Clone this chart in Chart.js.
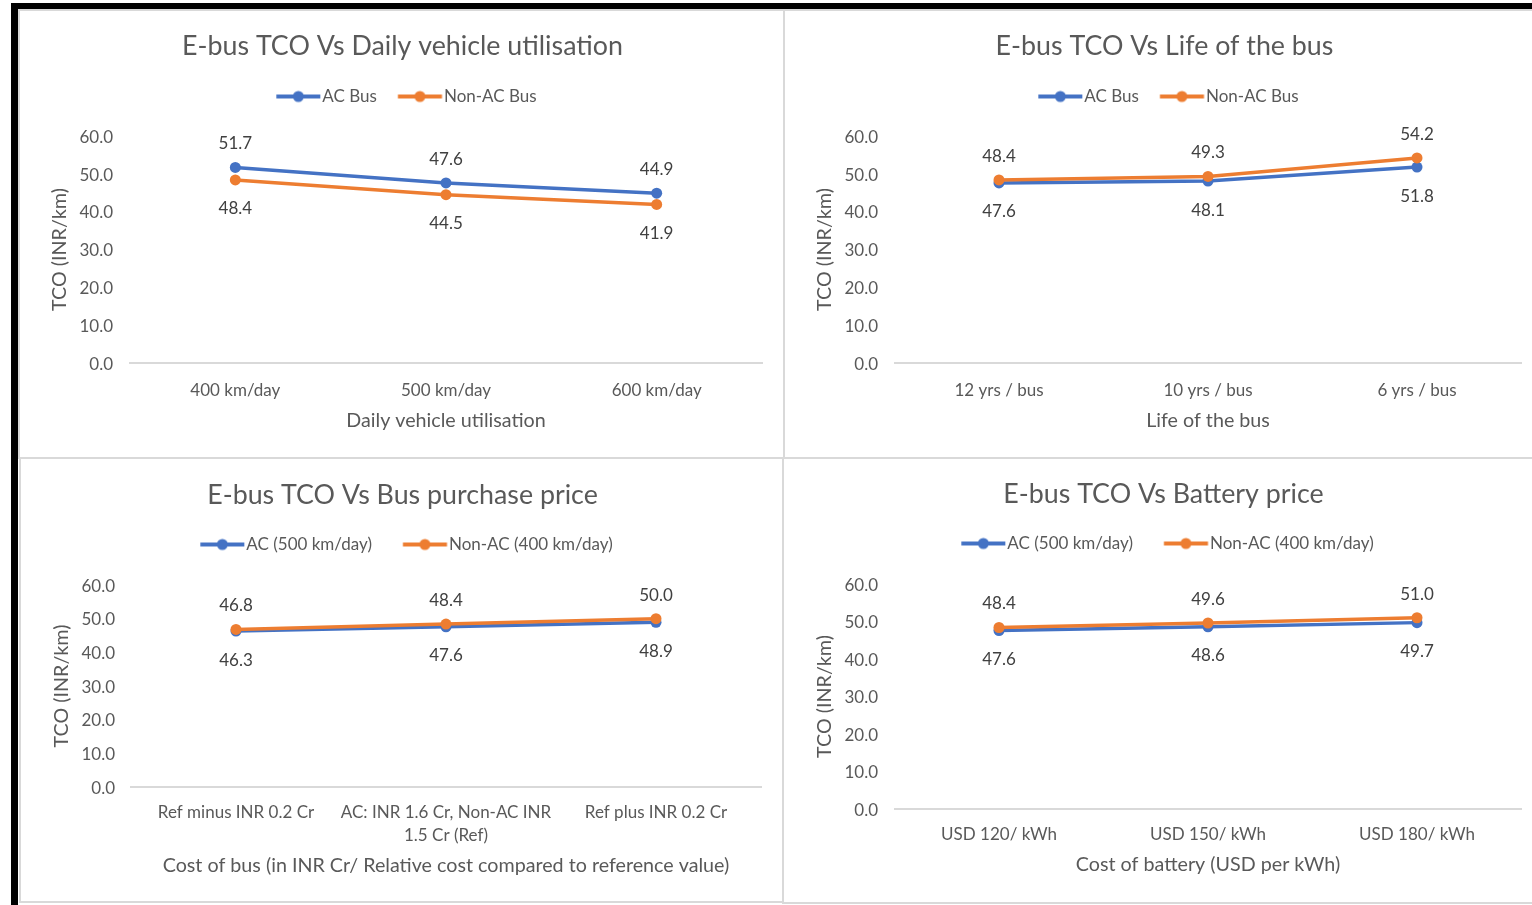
<!DOCTYPE html>
<html>
<head>
<meta charset="utf-8">
<title>E-bus TCO sensitivity</title>
<script src="https://cdn.jsdelivr.net/npm/chart.js@4/dist/chart.umd.min.js"></script>
<style>
  html, body { margin: 0; padding: 0; background: #fff; }
  body { width: 1532px; height: 905px; position: relative; overflow: hidden; }
  .bar { position: absolute; background: #000; }
  .panel { position: absolute; box-sizing: border-box; border: 2px solid #d9d9d9; }
  canvas { position: absolute; }
</style>
</head>
<body>
<div class="bar" style="left:11px;top:3px;width:1521px;height:6px"></div>
<div class="bar" style="left:11px;top:3px;width:7px;height:902px"></div>
<div class="panel" style="left:18px;top:9px;width:767px;height:450px"></div>
<div class="panel" style="left:783px;top:9px;width:760px;height:450px"></div>
<div class="panel" style="left:19px;top:457px;width:765px;height:446px"></div>
<div class="panel" style="left:782px;top:457px;width:760px;height:447px"></div>

<canvas id="utilChart" width="763" height="446" style="left:20px;top:11px"></canvas>
<canvas id="lifeChart" width="747" height="446" style="left:785px;top:11px"></canvas>
<canvas id="priceChart" width="762" height="442" style="left:21px;top:459px"></canvas>
<canvas id="batteryChart" width="748" height="443" style="left:784px;top:459px"></canvas>

<script>
// ---- Data (TCO in INR per km) ----
const utilCategories = ['400 km/day', '500 km/day', '600 km/day'];
const utilAc = [51.7, 47.6, 44.9];
const utilNonAc = [48.4, 44.5, 41.9];

const lifeCategories = ['12 yrs / bus', '10 yrs / bus', '6 yrs / bus'];
const lifeAc = [47.6, 48.1, 51.8];
const lifeNonAc = [48.4, 49.3, 54.2];

const priceCategories = ['Ref minus INR 0.2 Cr', ['AC: INR 1.6 Cr, Non-AC INR', '1.5 Cr (Ref)'], 'Ref plus INR 0.2 Cr'];
const priceAc = [46.3, 47.6, 48.9];
const priceNonAc = [46.8, 48.4, 50.0];

const batteryCategories = ['USD 120/ kWh', 'USD 150/ kWh', 'USD 180/ kWh'];
const batteryAc = [47.6, 48.6, 49.7];
const batteryNonAc = [48.4, 49.6, 51.0];

const busSeriesNames = ['AC Bus', 'Non-AC Bus'];
const routeSeriesNames = ['AC (500 km/day)', 'Non-AC (400 km/day)'];

const yMin = 0, yMax = 60, yStep = 10;

// ---- Styling ----
const AC_COLOR = '#4472C4';
const NON_AC_COLOR = '#ED7D31';
const TEXT_COLOR = '#595959';
const LABEL_COLOR = '#404040';

Chart.defaults.font.family = 'Lato, "Open Sans", sans-serif';
Chart.defaults.color = TEXT_COLOR;

// Legend marker: a short line with a dot in its middle
function legendMarker(color) {
  const c = document.createElement('canvas');
  c.width = 60; c.height = 14;
  const g = c.getContext('2d');
  g.strokeStyle = color;
  g.lineWidth = 4;
  g.beginPath(); g.moveTo(15.25, 7); g.lineTo(59.25, 7); g.stroke();
  g.fillStyle = color;
  g.beginPath(); g.arc(37.25, 7, 5.5, 0, Math.PI * 2); g.fill();
  return c;
}
const markers = [legendMarker(AC_COLOR), legendMarker(NON_AC_COLOR)];

// Empty layout box that keeps a gap between the legend and the plot
const spacerPlugin = {
  id: 'spacer',
  start(chart) {
    const box = {
      position: 'top', weight: 0, fullSize: true, options: {},
      width: 0, height: 0, left: 0, top: 0, right: 0, bottom: 0,
      isHorizontal() { return true; },
      update(maxWidth) {
        this.width = maxWidth;
        this.height = chart.options.plugins.spacer.height || 0;
      },
      draw() {}
    };
    chart.$spacerBox = box;
    Chart.layouts.addBox(chart, box);
  },
  stop(chart) {
    if (chart.$spacerBox) Chart.layouts.removeBox(chart, chart.$spacerBox);
  },
  defaults: { height: 0 }
};

// Value labels above or below each point
const valueLabelPlugin = {
  id: 'valueLabels',
  afterDatasetsDraw(chart) {
    const { ctx } = chart;
    ctx.save();
    ctx.font = '17px Lato, "Open Sans", sans-serif';
    ctx.fillStyle = LABEL_COLOR;
    ctx.textAlign = 'center';
    ctx.textBaseline = 'middle';
    chart.data.datasets.forEach((ds, i) => {
      const meta = chart.getDatasetMeta(i);
      meta.data.forEach((pt, j) => {
        const dy = ds.labelSide === 'above' ? -23.5 : 29;
        ctx.fillText(ds.data[j].toFixed(1), pt.x, pt.y + dy);
      });
    });
    ctx.restore();
  }
};

function series(label, values, color, order, side) {
  return {
    label, data: values,
    borderColor: color, backgroundColor: color,
    pointBackgroundColor: color, pointBorderColor: color,
    pointRadius: 5.5, pointHoverRadius: 5.5, pointBorderWidth: 0,
    borderWidth: 3.5, tension: 0, order, labelSide: side
  };
}

function makeChart(id, frame, spec) {
  const acSide = spec.acAbove ? 'above' : 'below';
  const nonAcSide = spec.acAbove ? 'below' : 'above';
  return new Chart(document.getElementById(id), {
    type: 'line',
    data: {
      labels: spec.categories,
      datasets: [
        series(spec.names[0], spec.ac, AC_COLOR, 1, acSide),
        series(spec.names[1], spec.nonAc, NON_AC_COLOR, 0, nonAcSide)
      ]
    },
    options: {
      responsive: false,
      animation: false,
      devicePixelRatio: 1,
      events: [],
      layout: { padding: { left: frame.padL, right: frame.padR, top: 0, bottom: frame.padB } },
      plugins: {
        tooltip: { enabled: false },
        title: {
          display: true, text: spec.title, color: TEXT_COLOR,
          font: { size: 26.8, weight: 'normal', lineHeight: 1.2 },
          padding: { top: frame.titleTop, bottom: frame.titleBottom }
        },
        legend: {
          display: true, position: 'top', align: 'center',
          labels: {
            usePointStyle: true, pointStyleWidth: 45.5,
            padding: frame.legendPad, color: TEXT_COLOR,
            font: { size: 17 },
            sort: (a, b) => a.datasetIndex - b.datasetIndex,
            generateLabels(chart) {
              const items = Chart.defaults.plugins.legend.labels.generateLabels(chart);
              items.forEach(it => { it.pointStyle = markers[it.datasetIndex]; it.lineWidth = 0; });
              return items;
            }
          }
        },
        spacer: { height: frame.gap }
      },
      scales: {
        x: {
          offset: true,
          grid: { display: false, drawTicks: false },
          border: { display: true, color: '#D9D9D9', width: 2 },
          ticks: {
            padding: frame.xTickPad, color: TEXT_COLOR,
            font: { size: 17, lineHeight: 1.35 },
            maxRotation: 0, minRotation: 0, autoSkip: false
          },
          title: {
            display: true, text: spec.xTitle, color: TEXT_COLOR,
            font: { size: 19.7, lineHeight: 1.2 },
            padding: { top: 0, bottom: frame.xTitleBottom }
          },
          afterFit(scale) { scale.height = frame.xHeight; }
        },
        y: {
          min: yMin, max: yMax,
          grid: { display: false, drawTicks: false },
          border: { display: false },
          ticks: {
            stepSize: yStep, padding: frame.yTickPad, color: TEXT_COLOR,
            font: { size: 17 }, labelOffset: 1.2,
            callback: v => Number(v).toFixed(1)
          },
          title: {
            display: true, text: 'TCO (INR/km)', color: TEXT_COLOR,
            font: { size: 19.7, lineHeight: 1.2 },
            padding: { top: frame.yTitlePad, bottom: 0 }
          },
          afterFit(scale) { scale.width = frame.yWidth; }
        }
      }
    },
    plugins: [spacerPlugin, valueLabelPlugin]
  });
}

makeChart('utilChart',
  { padL: 23, padR: 21, padB: 14, titleTop: 19.4, titleBottom: 12.44, legendPad: 13, gap: 21,
    yWidth: 87, yTickPad: 17, yTitlePad: 5.2, xHeight: 80, xTickPad: 16, xTitleBottom: 10.2 },
  { title: 'E-bus TCO Vs Daily vehicle utilisation', xTitle: 'Daily vehicle utilisation',
    categories: utilCategories, ac: utilAc, nonAc: utilNonAc, names: busSeriesNames, acAbove: true });

makeChart('lifeChart',
  { padL: 22.5, padR: 10.5, padB: 14, titleTop: 19.4, titleBottom: 12.44, legendPad: 13, gap: 21,
    yWidth: 87, yTickPad: 16.5, yTitlePad: 5.7, xHeight: 80, xTickPad: 16, xTitleBottom: 10.2 },
  { title: 'E-bus TCO Vs Life of the bus', xTitle: 'Life of the bus',
    categories: lifeCategories, ac: lifeAc, nonAc: lifeNonAc, names: busSeriesNames, acAbove: false });

makeChart('priceChart',
  { padL: 23, padR: 22, padB: 14, titleTop: 20.4, titleBottom: 1.44, legendPad: 23, gap: 22,
    yWidth: 87, yTickPad: 16, yTitlePad: 6.2, xHeight: 100, xTickPad: 14, xTitleBottom: 9.2 },
  { title: 'E-bus TCO Vs Bus purchase price', xTitle: 'Cost of bus (in INR Cr/ Relative cost compared to reference value)',
    categories: priceCategories, ac: priceAc, nonAc: priceNonAc, names: routeSeriesNames, acAbove: false });

makeChart('batteryChart',
  { padL: 21.5, padR: 10.5, padB: 13, titleTop: 19.4, titleBottom: 1.44, legendPad: 23, gap: 22,
    yWidth: 89, yTickPad: 16.5, yTitlePad: 7.7, xHeight: 80, xTickPad: 14, xTitleBottom: 12.2 },
  { title: 'E-bus TCO Vs Battery price', xTitle: 'Cost of battery (USD per kWh)',
    categories: batteryCategories, ac: batteryAc, nonAc: batteryNonAc, names: routeSeriesNames, acAbove: false });
</script>
</body>
</html>
